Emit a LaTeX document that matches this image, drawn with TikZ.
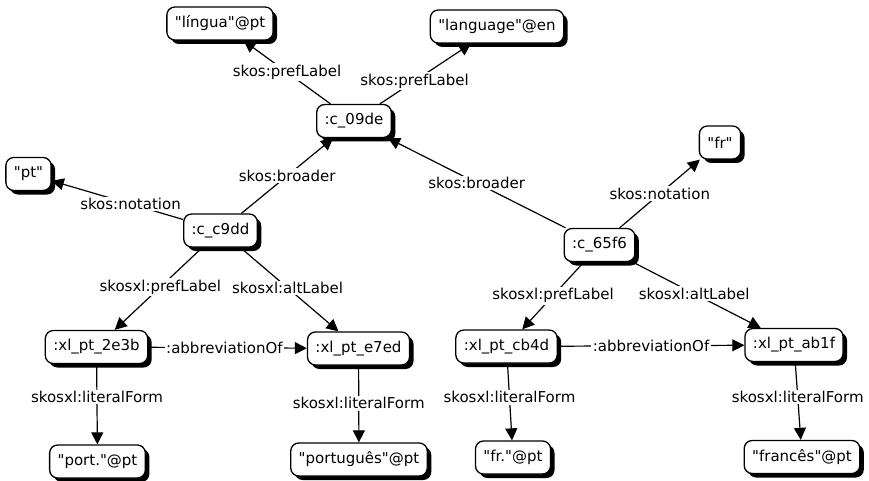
\documentclass[tikz,border=0pt]{standalone}
\usepackage{fontspec}
\newfontfamily\vfont{DejaVu Sans}
\setmainfont{DejaVu Sans}
\usetikzlibrary{arrows.meta,shadows}
\begin{document}
\begin{tikzpicture}[x=1pt,y=-1pt,
  res/.style={draw=black, line width=1.3pt, fill=white, rounded corners=8pt,
    minimum height=33pt, inner xsep=8pt, inner ysep=4pt,
    font=\vfont\fontsize{15}{17}\selectfont,
    drop shadow={shadow xshift=4pt, shadow yshift=-4pt, fill=black, opacity=1}},
  rel/.style={draw=black, line width=1.2pt, -{Triangle[length=12pt,width=12pt]}},
  lbl/.style={fill=white, inner sep=1.5pt, font=\vfont\fontsize{15}{17}\selectfont}]
\useasboundingbox (0,0) rectangle (869,481);
\node[res] (lingua) at (220,23.5) {"língua"@pt};
\node[res] (language) at (497,26.5) {"language"@en};
\node[res] (c09de) at (354,121) {:c\_09de};
\node[res] (pt) at (28.5,174) {"pt"};
\node[res] (cc9dd) at (220.5,230.5) {:c\_c9dd};
\node[res] (fr) at (720,142.5) {"fr"};
\node[res] (c65f6) at (599.5,245) {:c\_65f6};
\node[res] (x2e3b) at (96.5,347) {:xl\_pt\_2e3b};
\node[res] (xe7ed) at (358.5,348.5) {:xl\_pt\_e7ed};
\node[res] (xcb4d) at (506.5,346.5) {:xl\_pt\_cb4d};
\node[res] (xab1f) at (794,345) {:xl\_pt\_ab1f};
\node[res] (port) at (97.5,461.5) {"port."@pt};
\node[res] (portugues) at (359,459.5) {"português"@pt};
\node[res] (frpt) at (513,457.5) {"fr."@pt};
\node[res] (frances) at (802,457) {"francês"@pt};

\draw[rel] (c09de) -- node[lbl, pos=0.5] (l1) {skos:prefLabel} (lingua);
\draw[rel] (c09de) -- node[lbl, pos=0.38] (l2) {skos:prefLabel} (language);
\draw[rel] (cc9dd) -- node[lbl, pos=0.5] (l3) {skos:broader} (c09de);
\draw[rel] (c65f6) -- node[lbl, pos=0.5] (l4) {skos:broader} (c09de);
\draw[rel] (cc9dd) -- node[lbl, pos=0.4] (l5) {skos:notation} (pt);
\draw[rel] (c65f6) -- node[lbl, pos=0.5] (l6) {skos:notation} (fr);
\draw[rel] (cc9dd) -- node[lbl, pos=0.48] (l7) {skosxl:prefLabel} (x2e3b);
\draw[rel] (cc9dd) -- node[lbl, pos=0.48] (l8) {skosxl:altLabel} (xe7ed);
\draw[rel] (c65f6) -- node[lbl, pos=0.5] (l9) {skosxl:prefLabel} (xcb4d);
\draw[rel] (c65f6) -- node[lbl, pos=0.48] (l10) {skosxl:altLabel} (xab1f);
\draw[rel] (x2e3b) -- node[lbl, pos=0.48] (l11) {:abbreviationOf} (xe7ed);
\draw[rel] (xcb4d) -- node[lbl, pos=0.5] (l12) {:abbreviationOf} (xab1f);
\draw[rel] (x2e3b) -- node[lbl, pos=0.41] (l13) {skosxl:literalForm} (port);
\draw[rel] (xe7ed) -- node[lbl, pos=0.49] (l14) {skosxl:literalForm} (portugues);
\draw[rel] (xcb4d) -- node[lbl, pos=0.44] (l15) {skosxl:literalForm} (frpt);
\draw[rel] (xab1f) -- node[lbl, pos=0.45] (l16) {skosxl:literalForm} (frances);
\end{tikzpicture}
\end{document}
